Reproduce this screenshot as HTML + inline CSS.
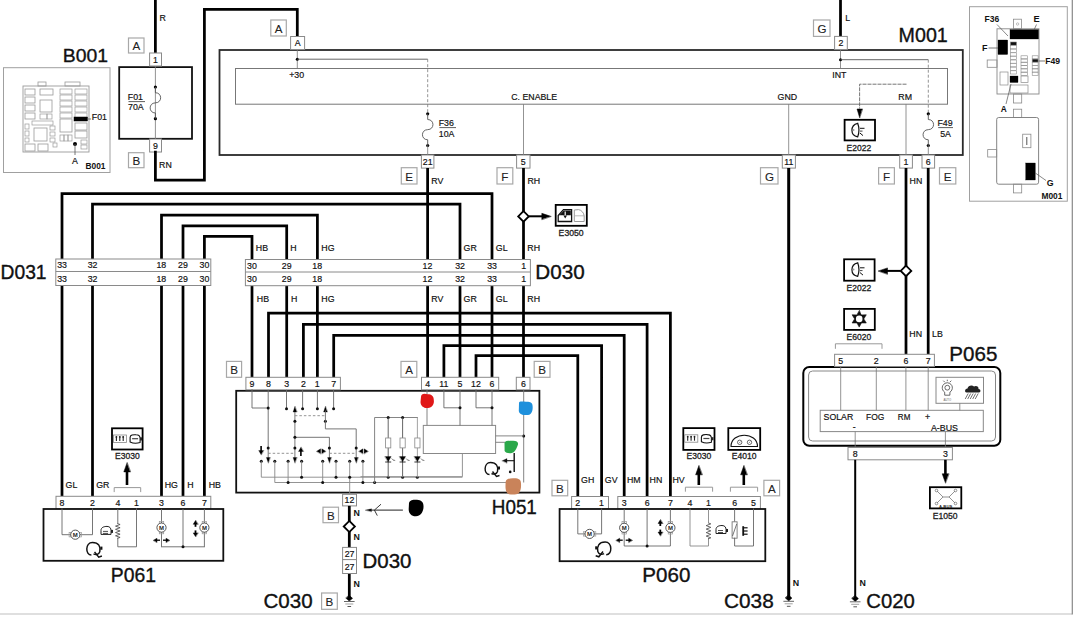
<!DOCTYPE html>
<html><head><meta charset="utf-8"><style>
html,body{margin:0;padding:0;background:#fff;width:1074px;height:624px;overflow:hidden}
svg{display:block;font-family:"Liberation Sans",sans-serif}
</style></head><body>
<svg width="1074" height="624" viewBox="0 0 1074 624">
<rect width="1074" height="624" fill="#fff"/>
<line x1="0" y1="614" x2="1072" y2="614" stroke="#d4d4d4" stroke-width="1.5"/>
<line x1="1072.3" y1="0" x2="1072.3" y2="614.5" stroke="#888" stroke-width="1.2"/>
<rect x="3.5" y="67.7" width="106.50" height="104.80" stroke="#a0a0a0" stroke-width="1" fill="none"/>
<text x="62.75" y="62.01" font-size="19.01" fill="#111" stroke="#111" stroke-width="0.35" textLength="45.23" lengthAdjust="spacingAndGlyphs">B001</text>
<rect x="23" y="86" width="66.00" height="66.00" stroke="#9a9a9a" stroke-width="0.9" fill="none"/>
<rect x="38" y="82" width="8.00" height="4.00" stroke="#9a9a9a" stroke-width="0.8" fill="none"/>
<rect x="65" y="82" width="15.00" height="4.00" stroke="#9a9a9a" stroke-width="0.8" fill="none"/>
<rect x="25" y="89" width="10.00" height="6.00" stroke="#9a9a9a" stroke-width="0.8" fill="none"/>
<rect x="25" y="97" width="10.00" height="6.00" stroke="#9a9a9a" stroke-width="0.8" fill="none"/>
<rect x="25" y="105" width="10.00" height="6.00" stroke="#9a9a9a" stroke-width="0.8" fill="none"/>
<rect x="25" y="113" width="10.00" height="6.00" stroke="#9a9a9a" stroke-width="0.8" fill="none"/>
<rect x="40" y="89" width="13.00" height="6.00" stroke="#9a9a9a" stroke-width="0.8" fill="none"/>
<rect x="40" y="100" width="12.00" height="12.00" stroke="#9a9a9a" stroke-width="0.8" fill="none"/>
<rect x="40" y="114" width="7.00" height="5.00" stroke="#9a9a9a" stroke-width="0.7" fill="none"/>
<rect x="47" y="114" width="5.00" height="5.00" stroke="#9a9a9a" stroke-width="0.7" fill="none"/>
<rect x="60" y="89" width="12.00" height="5.00" stroke="#9a9a9a" stroke-width="0.7" fill="none"/>
<rect x="75" y="89" width="12.00" height="5.00" stroke="#9a9a9a" stroke-width="0.7" fill="none"/>
<rect x="60" y="95" width="12.00" height="5.00" stroke="#9a9a9a" stroke-width="0.7" fill="none"/>
<rect x="75" y="95" width="12.00" height="5.00" stroke="#9a9a9a" stroke-width="0.7" fill="none"/>
<rect x="60" y="101" width="12.00" height="5.00" stroke="#9a9a9a" stroke-width="0.7" fill="none"/>
<rect x="75" y="101" width="12.00" height="5.00" stroke="#9a9a9a" stroke-width="0.7" fill="none"/>
<rect x="60" y="107" width="12.00" height="5.00" stroke="#9a9a9a" stroke-width="0.7" fill="none"/>
<rect x="75" y="107" width="12.00" height="5.00" stroke="#9a9a9a" stroke-width="0.7" fill="none"/>
<rect x="60" y="113" width="12.00" height="5.00" stroke="#9a9a9a" stroke-width="0.7" fill="none"/>
<rect x="75" y="113" width="12.00" height="5.00" stroke="#9a9a9a" stroke-width="0.7" fill="none"/>
<rect x="74" y="117" width="13.50" height="4.00" stroke="#000" stroke-width="0.5" fill="#000"/>
<rect x="60" y="119" width="12.00" height="13.00" stroke="#9a9a9a" stroke-width="0.8" fill="none"/>
<rect x="75" y="123" width="12.00" height="7.00" stroke="#9a9a9a" stroke-width="0.8" fill="none"/>
<rect x="75" y="131" width="12.00" height="7.00" stroke="#9a9a9a" stroke-width="0.8" fill="none"/>
<rect x="32" y="121" width="21.00" height="4.00" stroke="#9a9a9a" stroke-width="0.7" fill="none"/>
<rect x="25" y="124" width="4.00" height="5.00" stroke="#9a9a9a" stroke-width="0.7" fill="none"/>
<rect x="25" y="131" width="4.00" height="5.00" stroke="#9a9a9a" stroke-width="0.7" fill="none"/>
<rect x="25" y="138" width="4.00" height="4.00" stroke="#9a9a9a" stroke-width="0.7" fill="none"/>
<rect x="34" y="128" width="13.00" height="13.00" stroke="#9a9a9a" stroke-width="0.8" fill="none"/>
<rect x="50" y="126" width="5.00" height="4.00" stroke="#9a9a9a" stroke-width="0.7" fill="none"/>
<rect x="50" y="132" width="5.00" height="4.00" stroke="#9a9a9a" stroke-width="0.7" fill="none"/>
<rect x="50" y="138" width="5.00" height="4.00" stroke="#9a9a9a" stroke-width="0.7" fill="none"/>
<rect x="60" y="135" width="4.00" height="6.00" stroke="#9a9a9a" stroke-width="0.7" fill="none"/>
<rect x="64" y="135" width="4.00" height="6.00" stroke="#9a9a9a" stroke-width="0.7" fill="none"/>
<rect x="68" y="135" width="4.00" height="6.00" stroke="#9a9a9a" stroke-width="0.7" fill="none"/>
<rect x="25" y="144" width="10.00" height="7.00" stroke="#9a9a9a" stroke-width="0.8" fill="none"/>
<rect x="38" y="144" width="10.00" height="7.00" stroke="#9a9a9a" stroke-width="0.8" fill="none"/>
<rect x="53" y="143" width="4.00" height="4.00" stroke="#9a9a9a" stroke-width="0.7" fill="none"/>
<rect x="81" y="140" width="6.00" height="4.00" stroke="#9a9a9a" stroke-width="0.7" fill="none"/>
<rect x="81" y="145" width="6.00" height="4.00" stroke="#9a9a9a" stroke-width="0.7" fill="none"/>
<line x1="87.5" y1="119" x2="91" y2="119" stroke="#555" stroke-width="0.8"/>
<text x="91.80" y="120.34" font-size="8.8" fill="#111" stroke="#111" stroke-width="0.18">F01</text>
<circle cx="75" cy="144" r="2" fill="#000" stroke="none" stroke-width="0"/>
<line x1="75" y1="144" x2="75" y2="155" stroke="#555" stroke-width="0.8"/>
<text x="72.05" y="164.34" font-size="8.8" fill="#111" stroke="#111" stroke-width="0.18">A</text>
<text x="85.46" y="168.91" font-size="9" font-weight="bold" fill="#111" textLength="20.00" lengthAdjust="spacingAndGlyphs">B001</text>
<line x1="155.4" y1="0" x2="155.4" y2="53" stroke="#000" stroke-width="2.75"/>
<text x="159.60" y="20.84" font-size="8.8" fill="#111" stroke="#111" stroke-width="0.18">R</text>
<rect x="128.5" y="38" width="15.50" height="15.00" stroke="#a8a8a8" stroke-width="1.2" fill="#fff"/>
<text x="132.56" y="50.25" font-size="11.6" fill="#222" stroke="#222" stroke-width="0.1">A</text>
<rect x="119.2" y="67.1" width="72.80" height="71.70" stroke="#111" stroke-width="1.8" fill="none"/>
<line x1="155.4" y1="66" x2="155.4" y2="139" stroke="#777" stroke-width="0.8"/>
<circle cx="155.4" cy="87" r="1.6" fill="#000" stroke="none" stroke-width="0"/>
<circle cx="155.4" cy="118.7" r="1.6" fill="#000" stroke="none" stroke-width="0"/>
<path d="M155.4,87 L155.4,92.706 C162.4,92.706 162.4,102.85 155.4,102.85 C148.4,102.85 148.4,112.994 155.4,112.994 L155.4,118.7" stroke="#555" stroke-width="0.9" fill="none"/>
<text x="127.80" y="100.24" font-size="8.8" fill="#111" stroke="#111" stroke-width="0.18">F01</text>
<line x1="128.5" y1="101.6" x2="145" y2="101.6" stroke="#333" stroke-width="0.8"/>
<text x="128.06" y="110.24" font-size="8.8" fill="#111" stroke="#111" stroke-width="0.18">70A</text>
<rect x="149.6" y="53" width="11.90" height="13.00" stroke="#8a8a8a" stroke-width="1" fill="#fff"/>
<text x="153.00" y="62.54" font-size="8.8" fill="#111" stroke="#111" stroke-width="0.18">1</text>
<rect x="149.6" y="139" width="11.90" height="13.00" stroke="#8a8a8a" stroke-width="1" fill="#fff"/>
<text x="153.11" y="148.54" font-size="8.8" fill="#111" stroke="#111" stroke-width="0.18">9</text>
<rect x="128.5" y="152.7" width="15.50" height="15.00" stroke="#a8a8a8" stroke-width="1.2" fill="#fff"/>
<text x="132.42" y="164.95" font-size="11.6" fill="#222" stroke="#222" stroke-width="0.1">B</text>
<text x="159.10" y="167.94" font-size="8.8" fill="#111" stroke="#111" stroke-width="0.18">RN</text>
<polyline points="155.4,152 155.4,180 204.4,180 204.4,9.3 297.3,9.3 297.3,36.5" stroke="#000" stroke-width="2.75" fill="none" stroke-linejoin="miter" stroke-linecap="square"/>
<rect x="270.8" y="20" width="15.50" height="16.00" stroke="#a8a8a8" stroke-width="1.2" fill="#fff"/>
<text x="274.86" y="32.75" font-size="11.6" fill="#222" stroke="#222" stroke-width="0.1">A</text>
<rect x="813.5" y="20" width="16.50" height="16.40" stroke="#a8a8a8" stroke-width="1.2" fill="#fff"/>
<text x="817.57" y="32.95" font-size="11.6" fill="#222" stroke="#222" stroke-width="0.1">G</text>
<line x1="840.5" y1="0" x2="840.5" y2="36.4" stroke="#000" stroke-width="2.75"/>
<text x="845.30" y="21.04" font-size="8.8" fill="#111" stroke="#111" stroke-width="0.18">L</text>
<text x="898.63" y="42.20" font-size="19.58" fill="#111" stroke="#111" stroke-width="0.35" textLength="49.19" lengthAdjust="spacingAndGlyphs">M001</text>
<rect x="219.5" y="50" width="743.30" height="105.00" stroke="#2a2a2a" stroke-width="1.8" fill="none"/>
<rect x="235.5" y="68.5" width="712.00" height="35.70" stroke="#777" stroke-width="1" fill="none"/>
<line x1="297.3" y1="49.5" x2="297.3" y2="68.5" stroke="#777" stroke-width="0.8"/>
<circle cx="297.3" cy="59.2" r="1.5" fill="#000" stroke="none" stroke-width="0"/>
<line x1="297.3" y1="59.2" x2="427.7" y2="59.2" stroke="#555" stroke-width="0.9"/>
<line x1="427.7" y1="59.2" x2="427.7" y2="113.8" stroke="#777" stroke-width="0.8" stroke-dasharray="3,2"/>
<text x="289.16" y="78.44" font-size="8.8" fill="#111" stroke="#111" stroke-width="0.18">+30</text>
<text x="511.26" y="100.04" font-size="8.8" fill="#111" stroke="#111" stroke-width="0.18" textLength="45.80" lengthAdjust="spacingAndGlyphs">C. ENABLE</text>
<line x1="523.5" y1="104.2" x2="523.5" y2="155" stroke="#777" stroke-width="0.8"/>
<line x1="840.5" y1="49.5" x2="840.5" y2="68.5" stroke="#777" stroke-width="0.8"/>
<circle cx="840.5" cy="59.7" r="1.5" fill="#000" stroke="none" stroke-width="0"/>
<line x1="840.5" y1="59.7" x2="928.3" y2="59.7" stroke="#555" stroke-width="0.9"/>
<line x1="928.3" y1="59.7" x2="928.3" y2="113.8" stroke="#777" stroke-width="0.8" stroke-dasharray="3,2"/>
<text x="832.21" y="78.24" font-size="8.8" fill="#111" stroke="#111" stroke-width="0.18">INT</text>
<text x="777.56" y="100.04" font-size="8.8" fill="#111" stroke="#111" stroke-width="0.18">GND</text>
<line x1="788.7" y1="104.2" x2="788.7" y2="155" stroke="#777" stroke-width="0.8"/>
<text x="898.30" y="100.04" font-size="8.8" fill="#111" stroke="#111" stroke-width="0.18">RM</text>
<line x1="906" y1="104.2" x2="906" y2="155" stroke="#777" stroke-width="0.8"/>
<polyline points="906,84.2 859.6,84.2 859.6,108" stroke="#666" stroke-width="0.9" fill="none" stroke-linejoin="miter" stroke-linecap="square" stroke-dasharray="3,2"/>
<polygon points="859.6,117.5 857,109 862.2,109" stroke="#000" stroke-width="0.5" fill="#000" stroke-linejoin="miter" stroke-linecap="square"/>
<circle cx="427.7" cy="113.8" r="1.6" fill="#000" stroke="none" stroke-width="0"/>
<circle cx="427.7" cy="145.5" r="1.6" fill="#000" stroke="none" stroke-width="0"/>
<path d="M427.7,113.8 L427.7,119.506 C434.7,119.506 434.7,129.65 427.7,129.65 C420.7,129.65 420.7,139.794 427.7,139.794 L427.7,145.5" stroke="#555" stroke-width="0.9" fill="none"/>
<line x1="427.7" y1="145.5" x2="427.7" y2="155" stroke="#777" stroke-width="0.8"/>
<text x="438.70" y="125.84" font-size="8.8" fill="#111" stroke="#111" stroke-width="0.18">F36</text>
<line x1="439.4" y1="127.6" x2="456" y2="127.6" stroke="#333" stroke-width="0.8"/>
<text x="438.74" y="136.84" font-size="8.8" fill="#111" stroke="#111" stroke-width="0.18">10A</text>
<circle cx="928.3" cy="113.8" r="1.6" fill="#000" stroke="none" stroke-width="0"/>
<circle cx="928.3" cy="145.5" r="1.6" fill="#000" stroke="none" stroke-width="0"/>
<path d="M928.3,113.8 L928.3,119.506 C935.3,119.506 935.3,129.65 928.3,129.65 C921.3,129.65 921.3,139.794 928.3,139.794 L928.3,145.5" stroke="#555" stroke-width="0.9" fill="none"/>
<line x1="928.3" y1="145.5" x2="928.3" y2="155" stroke="#777" stroke-width="0.8"/>
<text x="937.50" y="125.84" font-size="8.8" fill="#111" stroke="#111" stroke-width="0.18">F49</text>
<line x1="938.2" y1="127.6" x2="953" y2="127.6" stroke="#333" stroke-width="0.8"/>
<text x="940.15" y="136.79" font-size="8.8" fill="#111" stroke="#111" stroke-width="0.18">5A</text>
<rect x="844.6" y="119.80000000000001" width="30.40" height="20.60" stroke="#000" stroke-width="1.8" fill="#fff"/>
<text x="846.58" y="150.57" font-size="8.6" fill="#222" stroke="#222" stroke-width="0.3" textLength="24.60" lengthAdjust="spacingAndGlyphs">E2022</text>
<rect x="290.6" y="36.5" width="14.00" height="13.00" stroke="#8a8a8a" stroke-width="1" fill="#fff"/>
<text x="294.65" y="46.04" font-size="8.8" fill="#111" stroke="#111" stroke-width="0.18">A</text>
<rect x="834.6" y="36.4" width="12.70" height="13.10" stroke="#8a8a8a" stroke-width="1" fill="#fff"/>
<text x="838.51" y="46.03" font-size="8.8" fill="#111" stroke="#111" stroke-width="0.18">2</text>
<rect x="421.4" y="155" width="12.50" height="13.10" stroke="#8a8a8a" stroke-width="1" fill="#fff"/>
<text x="422.77" y="164.63" font-size="8.8" fill="#111" stroke="#111" stroke-width="0.18">21</text>
<rect x="516.6" y="155" width="13.40" height="13.10" stroke="#8a8a8a" stroke-width="1" fill="#fff"/>
<text x="520.86" y="164.54" font-size="8.8" fill="#111" stroke="#111" stroke-width="0.18">5</text>
<rect x="782.3" y="155" width="13.10" height="13.10" stroke="#8a8a8a" stroke-width="1" fill="#fff"/>
<text x="784.19" y="164.59" font-size="8.8" fill="#111" stroke="#111" stroke-width="0.18">11</text>
<rect x="899.7" y="155" width="12.70" height="13.10" stroke="#8a8a8a" stroke-width="1" fill="#fff"/>
<text x="903.50" y="164.59" font-size="8.8" fill="#111" stroke="#111" stroke-width="0.18">1</text>
<rect x="922" y="155" width="12.60" height="13.10" stroke="#8a8a8a" stroke-width="1" fill="#fff"/>
<text x="925.84" y="164.59" font-size="8.8" fill="#111" stroke="#111" stroke-width="0.18">6</text>
<rect x="401.3" y="167.7" width="15.70" height="16.30" stroke="#a8a8a8" stroke-width="1.2" fill="#fff"/>
<text x="405.26" y="180.60" font-size="11.6" fill="#222" stroke="#222" stroke-width="0.1">E</text>
<rect x="497" y="167.7" width="15.80" height="16.30" stroke="#a8a8a8" stroke-width="1.2" fill="#fff"/>
<text x="501.33" y="180.60" font-size="11.6" fill="#222" stroke="#222" stroke-width="0.1">F</text>
<rect x="760.5" y="167.7" width="17.50" height="16.30" stroke="#a8a8a8" stroke-width="1.2" fill="#fff"/>
<text x="765.07" y="180.60" font-size="11.6" fill="#222" stroke="#222" stroke-width="0.1">G</text>
<rect x="878.6" y="167.7" width="15.80" height="16.30" stroke="#a8a8a8" stroke-width="1.2" fill="#fff"/>
<text x="882.93" y="180.60" font-size="11.6" fill="#222" stroke="#222" stroke-width="0.1">F</text>
<rect x="939.5" y="167.7" width="16.30" height="16.30" stroke="#a8a8a8" stroke-width="1.2" fill="#fff"/>
<text x="943.76" y="180.60" font-size="11.6" fill="#222" stroke="#222" stroke-width="0.1">E</text>
<text x="431.30" y="184.04" font-size="8.8" fill="#111" stroke="#111" stroke-width="0.18">RV</text>
<text x="527.50" y="184.04" font-size="8.8" fill="#111" stroke="#111" stroke-width="0.18">RH</text>
<text x="909.60" y="184.04" font-size="8.8" fill="#111" stroke="#111" stroke-width="0.18">HN</text>
<line x1="427.6" y1="168" x2="427.6" y2="259.7" stroke="#000" stroke-width="2.75"/>
<line x1="523.5" y1="168" x2="523.5" y2="259.7" stroke="#000" stroke-width="2.75"/>
<polyline points="62,259 62,193.5 492,193.5 492,259.7" stroke="#000" stroke-width="2.75" fill="none" stroke-linejoin="miter" stroke-linecap="square"/>
<polyline points="92.5,259 92.5,204.2 460,204.2 460,259.7" stroke="#000" stroke-width="2.75" fill="none" stroke-linejoin="miter" stroke-linecap="square"/>
<polyline points="161.5,259 161.5,215.2 317.4,215.2 317.4,259.7" stroke="#000" stroke-width="2.75" fill="none" stroke-linejoin="miter" stroke-linecap="square"/>
<polyline points="183,259 183,225.8 286.7,225.8 286.7,259.7" stroke="#000" stroke-width="2.75" fill="none" stroke-linejoin="miter" stroke-linecap="square"/>
<polyline points="204.4,259 204.4,236.3 252,236.3 252,259.7" stroke="#000" stroke-width="2.75" fill="none" stroke-linejoin="miter" stroke-linecap="square"/>
<polygon points="523.5,211.1 528.8,216.4 523.5,221.70000000000002 518.2,216.4" stroke="#000" stroke-width="1.8" fill="#fff" stroke-linejoin="miter" stroke-linecap="square"/>
<line x1="528.8" y1="216.3" x2="542.8" y2="216.3" stroke="#000" stroke-width="2"/>
<polygon points="550.8,216.3 541.8,213.3 541.8,219.3" stroke="#000" stroke-width="0.5" fill="#000" stroke-linejoin="miter" stroke-linecap="square"/>
<rect x="555.6999999999999" y="204.9" width="31.10" height="20.90" stroke="#000" stroke-width="1.8" fill="#fff"/>
<text x="558.63" y="236.17" font-size="8.6" fill="#222" stroke="#222" stroke-width="0.3" textLength="25.00" lengthAdjust="spacingAndGlyphs">E3050</text>
<text x="255.80" y="250.64" font-size="8.8" fill="#111" stroke="#111" stroke-width="0.18">HB</text>
<text x="290.30" y="250.64" font-size="8.8" fill="#111" stroke="#111" stroke-width="0.18">H</text>
<text x="321.30" y="250.64" font-size="8.8" fill="#111" stroke="#111" stroke-width="0.18">HG</text>
<text x="463.56" y="250.64" font-size="8.8" fill="#111" stroke="#111" stroke-width="0.18">GR</text>
<text x="495.86" y="250.64" font-size="8.8" fill="#111" stroke="#111" stroke-width="0.18">GL</text>
<text x="527.30" y="250.64" font-size="8.8" fill="#111" stroke="#111" stroke-width="0.18">RH</text>
<line x1="62" y1="285.4" x2="62" y2="496.3" stroke="#000" stroke-width="2.75"/>
<line x1="92.5" y1="285.4" x2="92.5" y2="496.3" stroke="#000" stroke-width="2.75"/>
<line x1="161.5" y1="285.4" x2="161.5" y2="496.3" stroke="#000" stroke-width="2.75"/>
<line x1="183" y1="285.4" x2="183" y2="496.3" stroke="#000" stroke-width="2.75"/>
<line x1="204.4" y1="285.4" x2="204.4" y2="496.3" stroke="#000" stroke-width="2.75"/>
<line x1="252" y1="285.7" x2="252" y2="377.3" stroke="#000" stroke-width="2.75"/>
<line x1="286.7" y1="285.7" x2="286.7" y2="377.3" stroke="#000" stroke-width="2.75"/>
<line x1="317.4" y1="285.7" x2="317.4" y2="377.3" stroke="#000" stroke-width="2.75"/>
<line x1="427.6" y1="285.7" x2="427.6" y2="377.3" stroke="#000" stroke-width="2.75"/>
<line x1="460" y1="285.7" x2="460" y2="377.3" stroke="#000" stroke-width="2.75"/>
<line x1="492" y1="285.7" x2="492" y2="377.3" stroke="#000" stroke-width="2.75"/>
<line x1="523.5" y1="285.7" x2="523.5" y2="377.3" stroke="#000" stroke-width="2.75"/>
<rect x="55.8" y="259" width="155.00" height="26.50" stroke="#8a8a8a" stroke-width="1" fill="#fff"/>
<line x1="55.8" y1="271.5" x2="210.8" y2="271.5" stroke="#8a8a8a" stroke-width="1"/>
<text x="57.14" y="268.09" font-size="8.8" fill="#111" stroke="#111" stroke-width="0.18">33</text>
<text x="57.14" y="281.94" font-size="8.8" fill="#111" stroke="#111" stroke-width="0.18">33</text>
<text x="87.66" y="268.09" font-size="8.8" fill="#111" stroke="#111" stroke-width="0.18">32</text>
<text x="87.66" y="281.94" font-size="8.8" fill="#111" stroke="#111" stroke-width="0.18">32</text>
<text x="156.46" y="268.09" font-size="8.8" fill="#111" stroke="#111" stroke-width="0.18">18</text>
<text x="156.46" y="281.94" font-size="8.8" fill="#111" stroke="#111" stroke-width="0.18">18</text>
<text x="178.09" y="268.09" font-size="8.8" fill="#111" stroke="#111" stroke-width="0.18">29</text>
<text x="178.09" y="281.94" font-size="8.8" fill="#111" stroke="#111" stroke-width="0.18">29</text>
<text x="199.52" y="268.09" font-size="8.8" fill="#111" stroke="#111" stroke-width="0.18">30</text>
<text x="199.52" y="281.94" font-size="8.8" fill="#111" stroke="#111" stroke-width="0.18">30</text>
<text x="0.56" y="279.30" font-size="19.58" fill="#111" stroke="#111" stroke-width="0.35" textLength="46.02" lengthAdjust="spacingAndGlyphs">D031</text>
<rect x="245.4" y="259.5" width="285.00" height="26.20" stroke="#8a8a8a" stroke-width="1" fill="#fff"/>
<line x1="245.4" y1="272" x2="530.4" y2="272" stroke="#8a8a8a" stroke-width="1"/>
<text x="247.12" y="268.59" font-size="8.8" fill="#111" stroke="#111" stroke-width="0.18">30</text>
<text x="247.12" y="282.29" font-size="8.8" fill="#111" stroke="#111" stroke-width="0.18">30</text>
<text x="281.79" y="268.59" font-size="8.8" fill="#111" stroke="#111" stroke-width="0.18">29</text>
<text x="281.79" y="282.29" font-size="8.8" fill="#111" stroke="#111" stroke-width="0.18">29</text>
<text x="312.36" y="268.59" font-size="8.8" fill="#111" stroke="#111" stroke-width="0.18">18</text>
<text x="312.36" y="282.29" font-size="8.8" fill="#111" stroke="#111" stroke-width="0.18">18</text>
<text x="422.61" y="268.63" font-size="8.8" fill="#111" stroke="#111" stroke-width="0.18">12</text>
<text x="422.61" y="282.33" font-size="8.8" fill="#111" stroke="#111" stroke-width="0.18">12</text>
<text x="455.16" y="268.59" font-size="8.8" fill="#111" stroke="#111" stroke-width="0.18">32</text>
<text x="455.16" y="282.29" font-size="8.8" fill="#111" stroke="#111" stroke-width="0.18">32</text>
<text x="487.14" y="268.59" font-size="8.8" fill="#111" stroke="#111" stroke-width="0.18">33</text>
<text x="487.14" y="282.29" font-size="8.8" fill="#111" stroke="#111" stroke-width="0.18">33</text>
<text x="521.25" y="268.59" font-size="8.8" fill="#111" stroke="#111" stroke-width="0.18">1</text>
<text x="521.25" y="282.29" font-size="8.8" fill="#111" stroke="#111" stroke-width="0.18">1</text>
<text x="535.25" y="279.30" font-size="19.86" fill="#111" stroke="#111" stroke-width="0.35" textLength="49.39" lengthAdjust="spacingAndGlyphs">D030</text>
<text x="256.80" y="301.54" font-size="8.8" fill="#111" stroke="#111" stroke-width="0.18">HB</text>
<text x="291.10" y="301.54" font-size="8.8" fill="#111" stroke="#111" stroke-width="0.18">H</text>
<text x="321.30" y="301.54" font-size="8.8" fill="#111" stroke="#111" stroke-width="0.18">HG</text>
<text x="431.30" y="301.54" font-size="8.8" fill="#111" stroke="#111" stroke-width="0.18">RV</text>
<text x="463.56" y="301.54" font-size="8.8" fill="#111" stroke="#111" stroke-width="0.18">GR</text>
<text x="495.86" y="301.54" font-size="8.8" fill="#111" stroke="#111" stroke-width="0.18">GL</text>
<text x="527.30" y="301.54" font-size="8.8" fill="#111" stroke="#111" stroke-width="0.18">RH</text>
<polyline points="268.5,377.3 268.5,313.2 670.4,313.2 670.4,496.5" stroke="#000" stroke-width="2.75" fill="none" stroke-linejoin="miter" stroke-linecap="square"/>
<polyline points="303.4,377.3 303.4,324.4 647.1,324.4 647.1,496.5" stroke="#000" stroke-width="2.75" fill="none" stroke-linejoin="miter" stroke-linecap="square"/>
<polyline points="333.7,377.3 333.7,335.4 624.2,335.4 624.2,496.5" stroke="#000" stroke-width="2.75" fill="none" stroke-linejoin="miter" stroke-linecap="square"/>
<polyline points="443.9,377.3 443.9,345.6 601.6,345.6 601.6,496.5" stroke="#000" stroke-width="2.75" fill="none" stroke-linejoin="miter" stroke-linecap="square"/>
<polyline points="476,377.3 476,355.7 577.8,355.7 577.8,496.5" stroke="#000" stroke-width="2.75" fill="none" stroke-linejoin="miter" stroke-linecap="square"/>
<rect x="236.2" y="390.8" width="303.20" height="101.80" stroke="#111" stroke-width="1.8" fill="#fff"/>
<rect x="226.5" y="361.4" width="15.10" height="15.90" stroke="#a8a8a8" stroke-width="1.2" fill="#fff"/>
<text x="230.22" y="374.10" font-size="11.6" fill="#222" stroke="#222" stroke-width="0.1">B</text>
<rect x="401" y="361.4" width="15.80" height="15.90" stroke="#a8a8a8" stroke-width="1.2" fill="#fff"/>
<text x="405.21" y="374.10" font-size="11.6" fill="#222" stroke="#222" stroke-width="0.1">A</text>
<rect x="534.2" y="361.4" width="15.80" height="15.90" stroke="#a8a8a8" stroke-width="1.2" fill="#fff"/>
<text x="538.27" y="374.10" font-size="11.6" fill="#222" stroke="#222" stroke-width="0.1">B</text>
<rect x="245.9" y="377.3" width="94.50" height="12.50" stroke="#8a8a8a" stroke-width="1" fill="#fff"/>
<text x="249.56" y="386.89" font-size="8.8" fill="#111" stroke="#111" stroke-width="0.18">9</text>
<text x="266.04" y="386.89" font-size="8.8" fill="#111" stroke="#111" stroke-width="0.18">8</text>
<text x="284.28" y="386.89" font-size="8.8" fill="#111" stroke="#111" stroke-width="0.18">3</text>
<text x="300.96" y="386.93" font-size="8.8" fill="#111" stroke="#111" stroke-width="0.18">2</text>
<text x="314.85" y="386.89" font-size="8.8" fill="#111" stroke="#111" stroke-width="0.18">1</text>
<text x="331.26" y="386.89" font-size="8.8" fill="#111" stroke="#111" stroke-width="0.18">7</text>
<rect x="421.5" y="377.3" width="77.20" height="12.50" stroke="#8a8a8a" stroke-width="1" fill="#fff"/>
<text x="425.18" y="386.89" font-size="8.8" fill="#111" stroke="#111" stroke-width="0.18">4</text>
<text x="439.24" y="386.89" font-size="8.8" fill="#111" stroke="#111" stroke-width="0.18">11</text>
<text x="457.56" y="386.84" font-size="8.8" fill="#111" stroke="#111" stroke-width="0.18">5</text>
<text x="471.01" y="386.93" font-size="8.8" fill="#111" stroke="#111" stroke-width="0.18">12</text>
<text x="489.54" y="386.89" font-size="8.8" fill="#111" stroke="#111" stroke-width="0.18">6</text>
<rect x="516.3" y="377.3" width="13.70" height="12.50" stroke="#8a8a8a" stroke-width="1" fill="#fff"/>
<text x="521.04" y="386.89" font-size="8.8" fill="#111" stroke="#111" stroke-width="0.18">6</text>
<text x="491.79" y="513.60" font-size="20.00" fill="#111" stroke="#111" stroke-width="0.35" textLength="45.06" lengthAdjust="spacingAndGlyphs">H051</text>
<rect x="342.6" y="494.3" width="13.90" height="11.60" stroke="#8a8a8a" stroke-width="1" fill="#fff"/>
<text x="344.56" y="503.18" font-size="8.8" fill="#111" stroke="#111" stroke-width="0.18">12</text>
<line x1="349.3" y1="505.9" x2="349.3" y2="598.5" stroke="#000" stroke-width="2.75"/>
<polygon points="349.3,520.9 354.90000000000003,526.5 349.3,532.1 343.7,526.5" stroke="#000" stroke-width="1.8" fill="#fff" stroke-linejoin="miter" stroke-linecap="square"/>
<rect x="323" y="507.2" width="15.50" height="15.50" stroke="#a8a8a8" stroke-width="1.2" fill="#fff"/>
<text x="326.92" y="519.70" font-size="11.6" fill="#222" stroke="#222" stroke-width="0.1">B</text>
<text x="353.43" y="515.64" font-size="8.8" font-weight="bold" fill="#111">N</text>
<text x="353.43" y="539.64" font-size="8.8" font-weight="bold" fill="#111">N</text>
<text x="353.43" y="586.94" font-size="8.8" font-weight="bold" fill="#111">N</text>
<rect x="342.6" y="547.4" width="13.90" height="12.20" stroke="#8a8a8a" stroke-width="1" fill="#fff"/>
<text x="344.67" y="556.58" font-size="8.8" fill="#111" stroke="#111" stroke-width="0.18">27</text>
<rect x="342.6" y="559.6" width="13.90" height="13.90" stroke="#8a8a8a" stroke-width="1" fill="#fff"/>
<text x="344.67" y="569.63" font-size="8.8" fill="#111" stroke="#111" stroke-width="0.18">27</text>
<text x="362.46" y="567.50" font-size="19.72" fill="#111" stroke="#111" stroke-width="0.35" textLength="48.97" lengthAdjust="spacingAndGlyphs">D030</text>
<polygon points="349.3,595.5 352.5,598.3 349.3,601.1 346.1,598.3" stroke="#000" stroke-width="0.6" fill="#000" stroke-linejoin="miter" stroke-linecap="square"/>
<line x1="344.0" y1="601.5" x2="354.6" y2="601.5" stroke="#666" stroke-width="1"/>
<line x1="345.3" y1="604.0" x2="353.3" y2="604.0" stroke="#999" stroke-width="0.9"/>
<line x1="347.5" y1="606.5" x2="351.1" y2="606.5" stroke="#555" stroke-width="1"/>
<text x="263.47" y="608.30" font-size="19.86" fill="#111" stroke="#111" stroke-width="0.35" textLength="49.17" lengthAdjust="spacingAndGlyphs">C030</text>
<rect x="321.6" y="593" width="15.70" height="16.30" stroke="#a8a8a8" stroke-width="1.2" fill="#fff"/>
<text x="325.62" y="605.90" font-size="11.6" fill="#222" stroke="#222" stroke-width="0.1">B</text>
<text x="65.56" y="487.54" font-size="8.8" fill="#111" stroke="#111" stroke-width="0.18">GL</text>
<text x="96.26" y="487.54" font-size="8.8" fill="#111" stroke="#111" stroke-width="0.18">GR</text>
<text x="164.70" y="487.54" font-size="8.8" fill="#111" stroke="#111" stroke-width="0.18">HG</text>
<text x="187.20" y="487.54" font-size="8.8" fill="#111" stroke="#111" stroke-width="0.18">H</text>
<text x="208.70" y="487.54" font-size="8.8" fill="#111" stroke="#111" stroke-width="0.18">HB</text>
<rect x="56" y="496.3" width="154.80" height="12.60" stroke="#8a8a8a" stroke-width="1" fill="#fff"/>
<text x="59.54" y="505.94" font-size="8.8" fill="#111" stroke="#111" stroke-width="0.18">8</text>
<text x="90.06" y="505.98" font-size="8.8" fill="#111" stroke="#111" stroke-width="0.18">2</text>
<text x="115.38" y="505.94" font-size="8.8" fill="#111" stroke="#111" stroke-width="0.18">4</text>
<text x="133.95" y="505.94" font-size="8.8" fill="#111" stroke="#111" stroke-width="0.18">1</text>
<text x="159.08" y="505.94" font-size="8.8" fill="#111" stroke="#111" stroke-width="0.18">3</text>
<text x="180.54" y="505.94" font-size="8.8" fill="#111" stroke="#111" stroke-width="0.18">6</text>
<text x="201.96" y="505.94" font-size="8.8" fill="#111" stroke="#111" stroke-width="0.18">7</text>
<rect x="43.5" y="509" width="179.80" height="51.80" stroke="#111" stroke-width="1.8" fill="#fff"/>
<text x="110.75" y="582.30" font-size="19.72" fill="#111" stroke="#111" stroke-width="0.35" textLength="45.23" lengthAdjust="spacingAndGlyphs">P061</text>
<polyline points="114.2,491.6 114.2,487.6 140.7,487.6 140.7,491.6" stroke="#999" stroke-width="1" fill="none" stroke-linejoin="miter" stroke-linecap="square"/>
<line x1="127" y1="485" x2="127" y2="470.9" stroke="#000" stroke-width="2.6"/>
<polygon points="127,462.9 123.8,471.9 130.2,471.9" stroke="#000" stroke-width="0.5" fill="#000" stroke-linejoin="miter" stroke-linecap="square"/>
<rect x="112.0" y="428.29999999999995" width="30.60" height="21.20" stroke="#000" stroke-width="1.8" fill="#fff"/>
<text x="114.99" y="458.87" font-size="8.6" fill="#222" stroke="#222" stroke-width="0.3" textLength="24.70" lengthAdjust="spacingAndGlyphs">E3030</text>
<text x="581.06" y="482.64" font-size="8.8" fill="#111" stroke="#111" stroke-width="0.18">GH</text>
<text x="604.86" y="482.64" font-size="8.8" fill="#111" stroke="#111" stroke-width="0.18">GV</text>
<text x="627.00" y="482.64" font-size="8.8" fill="#111" stroke="#111" stroke-width="0.18">HM</text>
<text x="649.60" y="482.64" font-size="8.8" fill="#111" stroke="#111" stroke-width="0.18">HN</text>
<text x="672.50" y="482.64" font-size="8.8" fill="#111" stroke="#111" stroke-width="0.18">HV</text>
<rect x="552" y="480.3" width="15.70" height="15.50" stroke="#a8a8a8" stroke-width="1.2" fill="#fff"/>
<text x="556.02" y="492.80" font-size="11.6" fill="#222" stroke="#222" stroke-width="0.1">B</text>
<rect x="763.9" y="480.3" width="15.70" height="15.50" stroke="#a8a8a8" stroke-width="1.2" fill="#fff"/>
<text x="768.06" y="492.80" font-size="11.6" fill="#222" stroke="#222" stroke-width="0.1">A</text>
<rect x="571.6" y="496.5" width="36.90" height="12.50" stroke="#8a8a8a" stroke-width="1" fill="#fff"/>
<text x="575.36" y="506.13" font-size="8.8" fill="#111" stroke="#111" stroke-width="0.18">2</text>
<text x="599.05" y="506.09" font-size="8.8" fill="#111" stroke="#111" stroke-width="0.18">1</text>
<rect x="617.8" y="496.5" width="142.60" height="12.50" stroke="#8a8a8a" stroke-width="1" fill="#fff"/>
<text x="621.78" y="506.09" font-size="8.8" fill="#111" stroke="#111" stroke-width="0.18">3</text>
<text x="644.64" y="506.09" font-size="8.8" fill="#111" stroke="#111" stroke-width="0.18">6</text>
<text x="667.96" y="506.09" font-size="8.8" fill="#111" stroke="#111" stroke-width="0.18">7</text>
<text x="687.58" y="506.09" font-size="8.8" fill="#111" stroke="#111" stroke-width="0.18">4</text>
<text x="705.95" y="506.09" font-size="8.8" fill="#111" stroke="#111" stroke-width="0.18">1</text>
<text x="732.14" y="506.09" font-size="8.8" fill="#111" stroke="#111" stroke-width="0.18">6</text>
<text x="751.06" y="506.04" font-size="8.8" fill="#111" stroke="#111" stroke-width="0.18">5</text>
<rect x="559.6" y="509" width="205.70" height="52.20" stroke="#111" stroke-width="1.8" fill="#fff"/>
<text x="642.35" y="582.30" font-size="19.86" fill="#111" stroke="#111" stroke-width="0.35" textLength="48.08" lengthAdjust="spacingAndGlyphs">P060</text>
<polyline points="685.4,491.2 685.4,487.2 712.6,487.2 712.6,491.2" stroke="#999" stroke-width="1" fill="none" stroke-linejoin="miter" stroke-linecap="square"/>
<polyline points="730.4,491.2 730.4,487.2 757.6,487.2 757.6,491.2" stroke="#999" stroke-width="1" fill="none" stroke-linejoin="miter" stroke-linecap="square"/>
<line x1="698.8" y1="485" x2="698.8" y2="473.8" stroke="#000" stroke-width="2.6"/>
<polygon points="698.8,465.8 695.5999999999999,474.8 702.0,474.8" stroke="#000" stroke-width="0.5" fill="#000" stroke-linejoin="miter" stroke-linecap="square"/>
<line x1="743.8" y1="485" x2="743.8" y2="473.8" stroke="#000" stroke-width="2.6"/>
<polygon points="743.8,465.8 740.5999999999999,474.8 747.0,474.8" stroke="#000" stroke-width="0.5" fill="#000" stroke-linejoin="miter" stroke-linecap="square"/>
<rect x="683.3" y="428.09999999999997" width="31.20" height="21.80" stroke="#000" stroke-width="1.8" fill="#fff"/>
<text x="686.49" y="459.47" font-size="8.6" fill="#222" stroke="#222" stroke-width="0.3" textLength="24.70" lengthAdjust="spacingAndGlyphs">E3030</text>
<rect x="728.3" y="428.09999999999997" width="31.90" height="21.80" stroke="#000" stroke-width="1.8" fill="#fff"/>
<text x="731.69" y="459.47" font-size="8.6" fill="#222" stroke="#222" stroke-width="0.3" textLength="24.70" lengthAdjust="spacingAndGlyphs">E4010</text>
<line x1="788.7" y1="168" x2="788.7" y2="598.5" stroke="#000" stroke-width="3"/>
<text x="792.73" y="586.34" font-size="8.8" font-weight="bold" fill="#111">N</text>
<polygon points="788.7,595.3000000000001 791.9000000000001,598.1 788.7,600.9000000000001 785.5,598.1" stroke="#000" stroke-width="0.6" fill="#000" stroke-linejoin="miter" stroke-linecap="square"/>
<line x1="783.4000000000001" y1="601.3000000000001" x2="794.0" y2="601.3000000000001" stroke="#666" stroke-width="1"/>
<line x1="784.7" y1="603.8000000000001" x2="792.7" y2="603.8000000000001" stroke="#999" stroke-width="0.9"/>
<line x1="786.9000000000001" y1="606.3000000000001" x2="790.5" y2="606.3000000000001" stroke="#555" stroke-width="1"/>
<text x="724.06" y="608.30" font-size="20.14" fill="#111" stroke="#111" stroke-width="0.35" textLength="49.69" lengthAdjust="spacingAndGlyphs">C038</text>
<line x1="906" y1="168" x2="906" y2="354.3" stroke="#000" stroke-width="2.75"/>
<line x1="928.2" y1="168" x2="928.2" y2="354.3" stroke="#000" stroke-width="2.75"/>
<polygon points="906,265.59999999999997 911.3,270.9 906,276.2 900.7,270.9" stroke="#000" stroke-width="1.8" fill="#fff" stroke-linejoin="miter" stroke-linecap="square"/>
<line x1="900.7" y1="270.9" x2="886.5" y2="270.9" stroke="#000" stroke-width="2"/>
<polygon points="878.5,270.9 887.5,267.9 887.5,273.9" stroke="#000" stroke-width="0.5" fill="#000" stroke-linejoin="miter" stroke-linecap="square"/>
<rect x="844.1" y="259.29999999999995" width="30.50" height="21.40" stroke="#000" stroke-width="1.8" fill="#fff"/>
<text x="846.58" y="290.57" font-size="8.6" fill="#222" stroke="#222" stroke-width="0.3" textLength="24.60" lengthAdjust="spacingAndGlyphs">E2022</text>
<rect x="844.1" y="308.9" width="30.70" height="21.00" stroke="#000" stroke-width="1.8" fill="#fff"/>
<text x="846.54" y="339.77" font-size="8.6" fill="#222" stroke="#222" stroke-width="0.3" textLength="24.60" lengthAdjust="spacingAndGlyphs">E6020</text>
<polyline points="835.4,348.3 835.4,343.8 882,343.8 882,348.3" stroke="#999" stroke-width="1" fill="none" stroke-linejoin="miter" stroke-linecap="square"/>
<text x="909.30" y="336.84" font-size="8.8" fill="#111" stroke="#111" stroke-width="0.18">HN</text>
<text x="932.00" y="336.84" font-size="8.8" fill="#111" stroke="#111" stroke-width="0.18">LB</text>
<rect x="803.3" y="367" width="197" height="78.8" rx="6" stroke="#000" stroke-width="2" fill="#fff"/>
<rect x="808.6" y="371" width="186.9" height="70" rx="4" stroke="#888" stroke-width="1" fill="#fff"/>
<rect x="834.6" y="354.3" width="99.80" height="12.30" stroke="#8a8a8a" stroke-width="1" fill="#fff"/>
<text x="838.26" y="363.74" font-size="8.8" fill="#111" stroke="#111" stroke-width="0.18">5</text>
<text x="873.86" y="363.83" font-size="8.8" fill="#111" stroke="#111" stroke-width="0.18">2</text>
<text x="903.44" y="363.79" font-size="8.8" fill="#111" stroke="#111" stroke-width="0.18">6</text>
<text x="925.76" y="363.79" font-size="8.8" fill="#111" stroke="#111" stroke-width="0.18">7</text>
<text x="949.35" y="361.30" font-size="20.00" fill="#111" stroke="#111" stroke-width="0.35" textLength="48.08" lengthAdjust="spacingAndGlyphs">P065</text>
<rect x="820.2" y="410.3" width="163.10" height="21.30" stroke="#888" stroke-width="1" fill="none"/>
<rect x="936" y="377.3" width="47.50" height="26.00" stroke="#888" stroke-width="1" fill="none"/>
<line x1="840.7" y1="366.6" x2="840.7" y2="410.3" stroke="#777" stroke-width="0.8"/>
<line x1="876.3" y1="366.6" x2="876.3" y2="410.3" stroke="#777" stroke-width="0.8"/>
<line x1="905.9" y1="366.6" x2="905.9" y2="410.3" stroke="#777" stroke-width="0.8"/>
<line x1="928.2" y1="366.6" x2="928.2" y2="410.3" stroke="#777" stroke-width="0.8"/>
<line x1="959.8" y1="403.3" x2="959.8" y2="410.3" stroke="#777" stroke-width="0.8"/>
<line x1="855.2" y1="431.6" x2="855.2" y2="447.5" stroke="#777" stroke-width="0.8"/>
<line x1="945.4" y1="431.6" x2="945.4" y2="447.5" stroke="#777" stroke-width="0.8"/>
<text x="823.61" y="419.74" font-size="8.8" fill="#111" stroke="#111" stroke-width="0.18" textLength="29.60" lengthAdjust="spacingAndGlyphs">SOLAR</text>
<text x="866.02" y="419.74" font-size="8.8" fill="#111" stroke="#111" stroke-width="0.18" textLength="18.30" lengthAdjust="spacingAndGlyphs">FOG</text>
<text x="897.86" y="419.74" font-size="8.8" fill="#111" stroke="#111" stroke-width="0.18" textLength="12.50" lengthAdjust="spacingAndGlyphs">RM</text>
<text x="924.96" y="420.38" font-size="8.8" fill="#111" stroke="#111" stroke-width="0.18">+</text>
<text x="852.80" y="430.28" font-size="8.8" fill="#111" stroke="#111" stroke-width="0.18">-</text>
<text x="930.96" y="430.74" font-size="8.8" fill="#111" stroke="#111" stroke-width="0.18" textLength="27.00" lengthAdjust="spacingAndGlyphs">A-BUS</text>
<rect x="848" y="447.5" width="104.40" height="12.30" stroke="#8a8a8a" stroke-width="1" fill="#fff"/>
<text x="852.74" y="456.99" font-size="8.8" fill="#111" stroke="#111" stroke-width="0.18">8</text>
<text x="942.98" y="456.99" font-size="8.8" fill="#111" stroke="#111" stroke-width="0.18">3</text>
<line x1="855.2" y1="459.8" x2="855.2" y2="598.8" stroke="#000" stroke-width="2"/>
<text x="859.43" y="586.24" font-size="8.8" font-weight="bold" fill="#111">N</text>
<polygon points="855.2,595.8000000000001 858.4000000000001,598.6 855.2,601.4000000000001 852.0,598.6" stroke="#000" stroke-width="0.6" fill="#000" stroke-linejoin="miter" stroke-linecap="square"/>
<line x1="849.9000000000001" y1="601.8000000000001" x2="860.5" y2="601.8000000000001" stroke="#666" stroke-width="1"/>
<line x1="851.2" y1="604.3000000000001" x2="859.2" y2="604.3000000000001" stroke="#999" stroke-width="0.9"/>
<line x1="853.4000000000001" y1="606.8000000000001" x2="857.0" y2="606.8000000000001" stroke="#555" stroke-width="1"/>
<text x="866.38" y="608.30" font-size="20.14" fill="#111" stroke="#111" stroke-width="0.35" textLength="48.54" lengthAdjust="spacingAndGlyphs">C020</text>
<line x1="945.4" y1="459.8" x2="945.4" y2="474.8" stroke="#000" stroke-width="2.6"/>
<polygon points="945.4,482.8 942.1999999999999,473.8 948.6,473.8" stroke="#000" stroke-width="0.5" fill="#000" stroke-linejoin="miter" stroke-linecap="square"/>
<rect x="929.9" y="487.2" width="31.40" height="21.20" stroke="#000" stroke-width="1.8" fill="#fff"/>
<text x="932.84" y="518.97" font-size="8.6" fill="#222" stroke="#222" stroke-width="0.3" textLength="24.80" lengthAdjust="spacingAndGlyphs">E1050</text>
<rect x="969.5" y="6.7" width="97.80" height="194.50" stroke="#a0a0a0" stroke-width="1" fill="none"/>
<polyline points="252,389.8 252,408 268.2,408" stroke="#666" stroke-width="0.9" fill="none" stroke-linejoin="miter" stroke-linecap="square"/>
<line x1="268.2" y1="389.8" x2="268.2" y2="458" stroke="#666" stroke-width="0.9"/>
<circle cx="268.2" cy="408" r="1.5" fill="#111" stroke="none" stroke-width="0"/>
<circle cx="268.2" cy="447.9" r="1.5" fill="#111" stroke="none" stroke-width="0"/>
<polygon points="268.2,462.8 266.4,457.5 270,457.5" stroke="#000" stroke-width="0.3" fill="#000" stroke-linejoin="miter" stroke-linecap="square"/>
<line x1="286.5" y1="389.8" x2="286.5" y2="408.7" stroke="#666" stroke-width="0.9"/>
<circle cx="286.5" cy="408.7" r="1.5" fill="#111" stroke="none" stroke-width="0"/>
<line x1="302.6" y1="389.8" x2="302.6" y2="408.7" stroke="#666" stroke-width="0.9"/>
<circle cx="302.6" cy="408.7" r="1.5" fill="#111" stroke="none" stroke-width="0"/>
<line x1="317.4" y1="389.8" x2="317.4" y2="408.7" stroke="#666" stroke-width="0.9"/>
<circle cx="317.4" cy="408.7" r="1.5" fill="#111" stroke="none" stroke-width="0"/>
<line x1="333.6" y1="389.8" x2="333.6" y2="408.7" stroke="#666" stroke-width="0.9"/>
<circle cx="333.6" cy="408.7" r="1.5" fill="#111" stroke="none" stroke-width="0"/>
<line x1="294.9" y1="411" x2="294.9" y2="458" stroke="#666" stroke-width="0.9"/>
<polygon points="294.9,406.5 293.1,412 296.7,412" stroke="#000" stroke-width="0.3" fill="#000" stroke-linejoin="miter" stroke-linecap="square"/>
<polygon points="325.4,406.5 323.6,412 327.2,412" stroke="#000" stroke-width="0.3" fill="#000" stroke-linejoin="miter" stroke-linecap="square"/>
<line x1="294.9" y1="415.7" x2="325.4" y2="415.7" stroke="#888" stroke-width="0.9" stroke-dasharray="2.5,2"/>
<circle cx="294.9" cy="421.2" r="1.5" fill="#111" stroke="none" stroke-width="0"/>
<circle cx="325.4" cy="421.2" r="1.5" fill="#111" stroke="none" stroke-width="0"/>
<polyline points="325.4,411 325.4,428.9 356.2,428.9 356.2,458" stroke="#666" stroke-width="0.9" fill="none" stroke-linejoin="miter" stroke-linecap="square"/>
<polyline points="294.9,437.3 329.4,437.3 329.4,458" stroke="#666" stroke-width="0.9" fill="none" stroke-linejoin="miter" stroke-linecap="square"/>
<circle cx="294.9" cy="437.3" r="1.5" fill="#111" stroke="none" stroke-width="0"/>
<circle cx="294.9" cy="447.9" r="1.5" fill="#111" stroke="none" stroke-width="0"/>
<circle cx="329.4" cy="447.9" r="1.5" fill="#111" stroke="none" stroke-width="0"/>
<circle cx="356.2" cy="447.9" r="1.5" fill="#111" stroke="none" stroke-width="0"/>
<polygon points="294.9,462.8 293.09999999999997,457.5 296.7,457.5" stroke="#000" stroke-width="0.3" fill="#000" stroke-linejoin="miter" stroke-linecap="square"/>
<polygon points="329.4,462.8 327.59999999999997,457.5 331.2,457.5" stroke="#000" stroke-width="0.3" fill="#000" stroke-linejoin="miter" stroke-linecap="square"/>
<polygon points="356.2,462.8 354.4,457.5 358.0,457.5" stroke="#000" stroke-width="0.3" fill="#000" stroke-linejoin="miter" stroke-linecap="square"/>
<line x1="268.2" y1="453.3" x2="294.9" y2="453.3" stroke="#888" stroke-width="0.9" stroke-dasharray="2.5,2"/>
<line x1="329.4" y1="453.3" x2="356.2" y2="453.3" stroke="#888" stroke-width="0.9" stroke-dasharray="2.5,2"/>
<line x1="261.1" y1="446.0" x2="261.1" y2="451.0" stroke="#000" stroke-width="1.6"/>
<polygon points="261.1,454.7 258.70000000000005,450.5 263.5,450.5" stroke="#000" stroke-width="0.3" fill="#000" stroke-linejoin="miter" stroke-linecap="square"/>
<line x1="300.9" y1="456.0" x2="300.9" y2="451.0" stroke="#000" stroke-width="1.6"/>
<polygon points="300.9,447.3 298.5,451.5 303.29999999999995,451.5" stroke="#000" stroke-width="0.3" fill="#000" stroke-linejoin="miter" stroke-linecap="square"/>
<polygon points="316.7,451.2 320.59999999999997,448.8 320.59999999999997,453.59999999999997" stroke="#000" stroke-width="0.3" fill="#000" stroke-linejoin="miter" stroke-linecap="square"/>
<polygon points="325.7,451.2 321.8,448.8 321.8,453.59999999999997" stroke="#000" stroke-width="0.3" fill="#000" stroke-linejoin="miter" stroke-linecap="square"/>
<polygon points="359.0,451.2 362.9,448.8 362.9,453.59999999999997" stroke="#000" stroke-width="0.3" fill="#000" stroke-linejoin="miter" stroke-linecap="square"/>
<polygon points="368.0,451.2 364.1,448.8 364.1,453.59999999999997" stroke="#000" stroke-width="0.3" fill="#000" stroke-linejoin="miter" stroke-linecap="square"/>
<circle cx="261.3" cy="461.2" r="1.5" fill="#111" stroke="none" stroke-width="0"/>
<circle cx="274.8" cy="461.2" r="1.5" fill="#111" stroke="none" stroke-width="0"/>
<circle cx="288.1" cy="461.2" r="1.5" fill="#111" stroke="none" stroke-width="0"/>
<circle cx="301.6" cy="461.2" r="1.5" fill="#111" stroke="none" stroke-width="0"/>
<circle cx="322.7" cy="461.2" r="1.5" fill="#111" stroke="none" stroke-width="0"/>
<circle cx="336" cy="461.2" r="1.5" fill="#111" stroke="none" stroke-width="0"/>
<circle cx="349.7" cy="461.2" r="1.5" fill="#111" stroke="none" stroke-width="0"/>
<circle cx="362.9" cy="461.2" r="1.5" fill="#111" stroke="none" stroke-width="0"/>
<line x1="261.3" y1="477.2" x2="462.4" y2="477.2" stroke="#888" stroke-width="0.9"/>
<line x1="274.8" y1="482.5" x2="510" y2="482.5" stroke="#888" stroke-width="0.9"/>
<line x1="261.3" y1="461.2" x2="261.3" y2="477.2" stroke="#888" stroke-width="0.9"/>
<line x1="274.8" y1="461.2" x2="274.8" y2="482.5" stroke="#888" stroke-width="0.9"/>
<line x1="288.1" y1="461.2" x2="288.1" y2="482.5" stroke="#888" stroke-width="0.9"/>
<line x1="301.6" y1="461.2" x2="301.6" y2="477.2" stroke="#888" stroke-width="0.9"/>
<line x1="322.7" y1="461.2" x2="322.7" y2="482.5" stroke="#888" stroke-width="0.9"/>
<line x1="336" y1="461.2" x2="336" y2="477.2" stroke="#888" stroke-width="0.9"/>
<line x1="362.9" y1="461.2" x2="362.9" y2="482.5" stroke="#888" stroke-width="0.9"/>
<line x1="349.7" y1="461.2" x2="349.7" y2="494.3" stroke="#888" stroke-width="0.9"/>
<circle cx="288.1" cy="482.5" r="1.5" fill="#111" stroke="none" stroke-width="0"/>
<circle cx="301.6" cy="477.2" r="1.5" fill="#111" stroke="none" stroke-width="0"/>
<circle cx="322.7" cy="482.5" r="1.5" fill="#111" stroke="none" stroke-width="0"/>
<circle cx="336" cy="477.2" r="1.5" fill="#111" stroke="none" stroke-width="0"/>
<circle cx="349.7" cy="477.2" r="1.5" fill="#111" stroke="none" stroke-width="0"/>
<circle cx="362.9" cy="482.5" r="1.5" fill="#111" stroke="none" stroke-width="0"/>
<circle cx="374.6" cy="482.5" r="1.5" fill="#111" stroke="none" stroke-width="0"/>
<circle cx="388.2" cy="477.2" r="1.5" fill="#111" stroke="none" stroke-width="0"/>
<circle cx="402.6" cy="477.2" r="1.5" fill="#111" stroke="none" stroke-width="0"/>
<circle cx="417.3" cy="477.2" r="1.5" fill="#111" stroke="none" stroke-width="0"/>
<polyline points="374.6,482.5 374.6,417.5 417.4,417.5" stroke="#777" stroke-width="0.9" fill="none" stroke-linejoin="miter" stroke-linecap="square"/>
<circle cx="388.2" cy="417.5" r="1.5" fill="#111" stroke="none" stroke-width="0"/>
<circle cx="402.6" cy="417.5" r="1.5" fill="#111" stroke="none" stroke-width="0"/>
<line x1="388.2" y1="417.5" x2="388.2" y2="477.2" stroke="#555" stroke-width="0.9"/>
<rect x="385.59999999999997" y="438" width="5.20" height="9.90" stroke="#888" stroke-width="0.8" fill="#fff"/>
<polygon points="385.2,456.6 391.2,456.6 388.2,461.6" stroke="#000" stroke-width="0.3" fill="#000" stroke-linejoin="miter" stroke-linecap="square"/>
<line x1="385.2" y1="462" x2="391.2" y2="462" stroke="#000" stroke-width="0.8"/>
<line x1="391.7" y1="458.5" x2="393.7" y2="460.5" stroke="#333" stroke-width="0.6"/>
<line x1="393.2" y1="460" x2="395.2" y2="460.5" stroke="#333" stroke-width="0.6"/>
<line x1="402.6" y1="417.5" x2="402.6" y2="477.2" stroke="#555" stroke-width="0.9"/>
<rect x="400.0" y="438" width="5.20" height="9.90" stroke="#888" stroke-width="0.8" fill="#fff"/>
<polygon points="399.6,456.6 405.6,456.6 402.6,461.6" stroke="#000" stroke-width="0.3" fill="#000" stroke-linejoin="miter" stroke-linecap="square"/>
<line x1="399.6" y1="462" x2="405.6" y2="462" stroke="#000" stroke-width="0.8"/>
<line x1="406.1" y1="458.5" x2="408.1" y2="460.5" stroke="#333" stroke-width="0.6"/>
<line x1="407.6" y1="460" x2="409.6" y2="460.5" stroke="#333" stroke-width="0.6"/>
<line x1="417.4" y1="417.5" x2="417.4" y2="477.2" stroke="#999" stroke-width="0.9"/>
<rect x="414.79999999999995" y="438" width="5.20" height="9.90" stroke="#888" stroke-width="0.8" fill="#fff"/>
<polygon points="414.4,456.6 420.4,456.6 417.4,461.6" stroke="#000" stroke-width="0.3" fill="#000" stroke-linejoin="miter" stroke-linecap="square"/>
<line x1="414.4" y1="462" x2="420.4" y2="462" stroke="#000" stroke-width="0.8"/>
<line x1="420.9" y1="458.5" x2="422.9" y2="460.5" stroke="#333" stroke-width="0.6"/>
<line x1="422.4" y1="460" x2="424.4" y2="460.5" stroke="#333" stroke-width="0.6"/>
<rect x="423.3" y="425.4" width="72.30" height="28.10" stroke="#888" stroke-width="1" fill="#fff"/>
<line x1="427" y1="389.8" x2="427" y2="425.4" stroke="#777" stroke-width="0.9"/>
<polyline points="443.9,389.8 443.9,407.8 460,407.8" stroke="#666" stroke-width="0.9" fill="none" stroke-linejoin="miter" stroke-linecap="square"/>
<line x1="460" y1="389.8" x2="460" y2="425.4" stroke="#666" stroke-width="0.9"/>
<circle cx="460" cy="407.8" r="1.5" fill="#111" stroke="none" stroke-width="0"/>
<polyline points="476,389.8 476,407.8 492,407.8" stroke="#666" stroke-width="0.9" fill="none" stroke-linejoin="miter" stroke-linecap="square"/>
<line x1="492" y1="389.8" x2="492" y2="425.4" stroke="#666" stroke-width="0.9"/>
<circle cx="492" cy="407.8" r="1.5" fill="#111" stroke="none" stroke-width="0"/>
<line x1="523.7" y1="389.8" x2="523.7" y2="482.5" stroke="#777" stroke-width="0.9"/>
<circle cx="523.7" cy="435.9" r="1.5" fill="#111" stroke="none" stroke-width="0"/>
<line x1="495.6" y1="435.9" x2="523.7" y2="435.9" stroke="#777" stroke-width="0.9"/>
<line x1="495.6" y1="442.3" x2="505" y2="442.3" stroke="#777" stroke-width="0.9"/>
<polyline points="462.4,453.5 462.4,476.7 361,476.7" stroke="#888" stroke-width="0.9" fill="none" stroke-linejoin="miter" stroke-linecap="square"/>
<line x1="514.2" y1="453" x2="514.2" y2="471.9" stroke="#111" stroke-width="1.4"/>
<line x1="506" y1="460.7" x2="514.2" y2="460.7" stroke="#111" stroke-width="1.1"/>
<polygon points="502.3,460.7 507,458.6 507,462.8" stroke="#111" stroke-width="0.3" fill="#111" stroke-linejoin="miter" stroke-linecap="square"/>
<circle cx="510.2" cy="471.9" r="1.3" fill="#111" stroke="none" stroke-width="0"/>
<g transform="translate(491.5,468.5) scale(1.0,1.0)" fill="none" stroke="#111" stroke-width="1.4"><path d="M-2,6 C-8,6 -8,-6 -1,-6 C5,-6 7,-2 6,3 C5,6 2,6 0,5"/><path d="M1,3 L5,8 L8,7" /><rect x="6.5" y="-2" width="2" height="3" fill="#111" stroke="none"/></g>
<path d="M421,397 C421,393 425,393.5 427.5,394.2 C431,394 434,396 433.8,400 C434.5,404 432,407.8 428,408 C424,408.5 420.5,406 420.5,402 Z" fill="#e01818"/>
<path d="M519,403 C519,401 522,401.5 526,401.7 C530,401.5 532.6,402.5 532.6,406 C533,410 532,414.5 528,415 C524,415.3 519.5,415 518.8,411 Z" fill="#1e90dc"/>
<path d="M504.5,443 C505,440.5 509,441 512,440.8 C516,440.5 518.5,441.5 518,444.5 C517,447 516,450 514,452 C511,454 506,453.5 504.6,451 Z" fill="#2aa84a"/>
<path d="M505.6,482 C506,478.5 510,478.2 514,478.3 C518.5,478.2 521,479.5 521,483.5 C521.3,487.5 520.5,491 519,493 C517,494.8 512,494.8 509,494.2 C506.5,493.5 505.4,490 505.5,486 Z" fill="#c9835a"/>
<path d="M409,503 C410,499.5 414,499.8 417,499.8 C421,500.2 423.5,502 423.5,506 C423.8,511 421,516 416,516.3 C411.5,516.5 408.5,513 408.7,509 Z" fill="#000"/>
<line x1="369" y1="510.1" x2="402.9" y2="510.1" stroke="#222" stroke-width="1"/>
<polygon points="365.6,510.1 371.5,508.8 371.5,511.4" stroke="#111" stroke-width="0.3" fill="#111" stroke-linejoin="miter" stroke-linecap="square"/>
<line x1="374.4" y1="510.1" x2="381" y2="504.2" stroke="#222" stroke-width="0.9"/>
<line x1="374.4" y1="510.1" x2="377.3" y2="515.6" stroke="#222" stroke-width="0.9"/>
<polyline points="62,508.9 62,534.7 70.5,534.7" stroke="#666" stroke-width="0.9" fill="none" stroke-linejoin="miter" stroke-linecap="square"/>
<polyline points="80,534.7 92.5,534.7 92.5,508.9" stroke="#666" stroke-width="0.9" fill="none" stroke-linejoin="miter" stroke-linecap="square"/>
<rect x="69.10000000000001" y="532.5" width="2" height="4.4" fill="none" stroke="#999" stroke-width="0.7"/>
<rect x="79.49999999999999" y="532.5" width="2" height="4.4" fill="none" stroke="#999" stroke-width="0.7"/>
<circle cx="75.3" cy="534.7" r="4.6" fill="#fff" stroke="#444" stroke-width="0.9"/>
<text x="75.3" y="536.9000000000001" font-size="6" text-anchor="middle" fill="#222" font-weight="bold">M</text>
<g transform="translate(106,531.4)" fill="none" stroke="#222" stroke-width="1"><path d="M-5,3 L-5,-1 C-5,-4 -2,-5 1,-5 C4,-5 5,-3 5,-1 L5,3 Z"/><path d="M-3,0 L2,0 M-3,2 L2,2" stroke-width="0.8"/><rect x="5" y="-1.5" width="2" height="3" fill="#222" stroke="none"/></g>
<line x1="117.8" y1="508.9" x2="117.8" y2="523.7" stroke="#666" stroke-width="0.9"/>
<polyline points="117.8,523.7 120.1,524.5055555555556 115.5,526.1166666666667 120.1,527.7277777777779 115.5,529.338888888889 120.1,530.95 115.5,532.5611111111111 120.1,534.1722222222222 115.5,535.7833333333334 120.1,537.3944444444445 117.8,538.2" stroke="#444" stroke-width="0.8" fill="none" stroke-linejoin="miter" stroke-linecap="square"/>
<polyline points="117.8,538.2 117.8,546.8 136.5,546.8 136.5,508.9" stroke="#666" stroke-width="0.9" fill="none" stroke-linejoin="miter" stroke-linecap="square"/>
<line x1="161.5" y1="508.9" x2="161.5" y2="546.8" stroke="#666" stroke-width="0.9"/>
<rect x="159.3" y="521.4" width="4.4" height="2" fill="none" stroke="#999" stroke-width="0.7"/>
<rect x="159.3" y="531.8000000000001" width="4.4" height="2" fill="none" stroke="#999" stroke-width="0.7"/>
<circle cx="161.5" cy="527.6" r="4.6" fill="#fff" stroke="#444" stroke-width="0.9"/>
<text x="161.5" y="529.8000000000001" font-size="6" text-anchor="middle" fill="#222" font-weight="bold">M</text>
<polygon points="153.5,540.2 157.0,538.2 157.0,542.2" stroke="#000" stroke-width="0.4" fill="#000" stroke-linejoin="miter" stroke-linecap="square"/>
<line x1="156.5" y1="540.2" x2="160.0" y2="540.2" stroke="#000" stroke-width="1.3"/>
<line x1="163.0" y1="540.2" x2="166.5" y2="540.2" stroke="#000" stroke-width="1.3"/>
<polygon points="169.5,540.2 166.0,538.2 166.0,542.2" stroke="#000" stroke-width="0.4" fill="#000" stroke-linejoin="miter" stroke-linecap="square"/>
<polyline points="161.5,546.8 204.4,546.8" stroke="#666" stroke-width="0.9" fill="none" stroke-linejoin="miter" stroke-linecap="square"/>
<line x1="183" y1="508.9" x2="183" y2="546.8" stroke="#666" stroke-width="0.9"/>
<circle cx="183" cy="546.8" r="1.5" fill="#111" stroke="none" stroke-width="0"/>
<line x1="204.4" y1="508.9" x2="204.4" y2="546.8" stroke="#666" stroke-width="0.9"/>
<rect x="202.20000000000002" y="521.4" width="4.4" height="2" fill="none" stroke="#999" stroke-width="0.7"/>
<rect x="202.20000000000002" y="531.8000000000001" width="4.4" height="2" fill="none" stroke="#999" stroke-width="0.7"/>
<circle cx="204.4" cy="527.6" r="4.6" fill="#fff" stroke="#444" stroke-width="0.9"/>
<text x="204.4" y="529.8000000000001" font-size="6" text-anchor="middle" fill="#222" font-weight="bold">M</text>
<polygon points="195.5,520.6 193.2,524.3000000000001 197.8,524.3000000000001" stroke="#000" stroke-width="0.4" fill="#000" stroke-linejoin="miter" stroke-linecap="square"/>
<line x1="195.5" y1="523.6" x2="195.5" y2="526.8000000000001" stroke="#000" stroke-width="1.8"/>
<line x1="195.5" y1="530.4" x2="195.5" y2="533.6" stroke="#000" stroke-width="1.8"/>
<polygon points="195.5,536.6 193.2,532.9 197.8,532.9" stroke="#000" stroke-width="0.4" fill="#000" stroke-linejoin="miter" stroke-linecap="square"/>
<g transform="translate(93.5,548.7) scale(1.05,1.05)" fill="none" stroke="#111" stroke-width="1.4"><path d="M-2,6 C-8,6 -8,-6 -1,-6 C5,-6 7,-2 6,3 C5,6 2,6 0,5"/><path d="M1,3 L5,8 L8,7" /><rect x="6.5" y="-2" width="2" height="3" fill="#111" stroke="none"/></g>
<polyline points="577.8,509 577.8,533.9 584.6,533.9" stroke="#666" stroke-width="0.9" fill="none" stroke-linejoin="miter" stroke-linecap="square"/>
<polyline points="594.6,533.9 601.6,533.9 601.6,509" stroke="#666" stroke-width="0.9" fill="none" stroke-linejoin="miter" stroke-linecap="square"/>
<rect x="583.4" y="531.6999999999999" width="2" height="4.4" fill="none" stroke="#999" stroke-width="0.7"/>
<rect x="593.8000000000001" y="531.6999999999999" width="2" height="4.4" fill="none" stroke="#999" stroke-width="0.7"/>
<circle cx="589.6" cy="533.9" r="4.6" fill="#fff" stroke="#444" stroke-width="0.9"/>
<text x="589.6" y="536.1" font-size="6" text-anchor="middle" fill="#222" font-weight="bold">M</text>
<line x1="624.2" y1="509" x2="624.2" y2="546" stroke="#666" stroke-width="0.9"/>
<rect x="622.0" y="521.5999999999999" width="4.4" height="2" fill="none" stroke="#999" stroke-width="0.7"/>
<rect x="622.0" y="532.0" width="4.4" height="2" fill="none" stroke="#999" stroke-width="0.7"/>
<circle cx="624.2" cy="527.8" r="4.6" fill="#fff" stroke="#444" stroke-width="0.9"/>
<text x="624.2" y="530.0" font-size="6" text-anchor="middle" fill="#222" font-weight="bold">M</text>
<polygon points="616.2,540.2 619.7,538.2 619.7,542.2" stroke="#000" stroke-width="0.4" fill="#000" stroke-linejoin="miter" stroke-linecap="square"/>
<line x1="619.2" y1="540.2" x2="622.7" y2="540.2" stroke="#000" stroke-width="1.3"/>
<line x1="625.7" y1="540.2" x2="629.2" y2="540.2" stroke="#000" stroke-width="1.3"/>
<polygon points="632.2,540.2 628.7,538.2 628.7,542.2" stroke="#000" stroke-width="0.4" fill="#000" stroke-linejoin="miter" stroke-linecap="square"/>
<line x1="624.2" y1="546" x2="670.4" y2="546" stroke="#666" stroke-width="0.9"/>
<line x1="647.1" y1="509" x2="647.1" y2="546" stroke="#666" stroke-width="0.9"/>
<circle cx="647.1" cy="546" r="1.5" fill="#111" stroke="none" stroke-width="0"/>
<line x1="670.4" y1="509" x2="670.4" y2="546" stroke="#666" stroke-width="0.9"/>
<rect x="668.1999999999999" y="521.5999999999999" width="4.4" height="2" fill="none" stroke="#999" stroke-width="0.7"/>
<rect x="668.1999999999999" y="532.0" width="4.4" height="2" fill="none" stroke="#999" stroke-width="0.7"/>
<circle cx="670.4" cy="527.8" r="4.6" fill="#fff" stroke="#444" stroke-width="0.9"/>
<text x="670.4" y="530.0" font-size="6" text-anchor="middle" fill="#222" font-weight="bold">M</text>
<polygon points="660.3,519.8 658.0,523.5 662.5999999999999,523.5" stroke="#000" stroke-width="0.4" fill="#000" stroke-linejoin="miter" stroke-linecap="square"/>
<line x1="660.3" y1="522.8" x2="660.3" y2="526.0" stroke="#000" stroke-width="1.8"/>
<line x1="660.3" y1="529.5999999999999" x2="660.3" y2="532.8" stroke="#000" stroke-width="1.8"/>
<polygon points="660.3,535.8 658.0,532.0999999999999 662.5999999999999,532.0999999999999" stroke="#000" stroke-width="0.4" fill="#000" stroke-linejoin="miter" stroke-linecap="square"/>
<polyline points="690,509 690,546 708.5,546 708.5,538.7" stroke="#888" stroke-width="0.9" fill="none" stroke-linejoin="miter" stroke-linecap="square"/>
<polyline points="708.5,523 710.8,523.8722222222223 706.2,525.6166666666667 710.8,527.3611111111111 706.2,529.1055555555556 710.8,530.85 706.2,532.5944444444444 710.8,534.338888888889 706.2,536.0833333333334 710.8,537.8277777777778 708.5,538.7" stroke="#444" stroke-width="0.8" fill="none" stroke-linejoin="miter" stroke-linecap="square"/>
<line x1="708.5" y1="509" x2="708.5" y2="523" stroke="#888" stroke-width="0.9"/>
<g transform="translate(721,530.5)" fill="none" stroke="#222" stroke-width="1"><path d="M-5,3 L-5,-1 C-5,-4 -2,-5 1,-5 C4,-5 5,-3 5,-1 L5,3 Z"/><path d="M-3,0 L2,0 M-3,2 L2,2" stroke-width="0.8"/><rect x="5" y="-1.5" width="2" height="3" fill="#222" stroke="none"/></g>
<line x1="734.6" y1="509" x2="734.6" y2="521.8" stroke="#666" stroke-width="0.9"/>
<rect x="732.1" y="521.8" width="5.00" height="16.40" stroke="#777" stroke-width="0.9" fill="#fff"/>
<line x1="732.5" y1="536" x2="736.7" y2="524" stroke="#555" stroke-width="0.8"/>
<polyline points="734.6,538.2 734.6,546 753.5,546 753.5,509" stroke="#666" stroke-width="0.9" fill="none" stroke-linejoin="miter" stroke-linecap="square"/>
<line x1="743.2" y1="526.2" x2="743.2" y2="535.8" stroke="#111" stroke-width="1.8"/>
<line x1="743.2" y1="527.8" x2="747.6" y2="527.8" stroke="#111" stroke-width="1.2"/>
<line x1="743.2" y1="531" x2="747.6" y2="531" stroke="#111" stroke-width="1.2"/>
<line x1="743.2" y1="534.2" x2="747.6" y2="534.2" stroke="#111" stroke-width="1.2"/>
<g transform="translate(604.1,548.4) scale(-1.05,1.05)" fill="none" stroke="#111" stroke-width="1.4"><path d="M-2,6 C-8,6 -8,-6 -1,-6 C5,-6 7,-2 6,3 C5,6 2,6 0,5"/><path d="M1,3 L5,8 L8,7" /><rect x="6.5" y="-2" width="2" height="3" fill="#111" stroke="none"/></g>
<g transform="translate(856.5,269.6)" fill="none" stroke="#111" stroke-width="1.2"><path d="M1.2,-6.8 C-6.5,-5 -6.5,5.5 1.2,6.8 C2.6,3 2.6,-3 1.2,-6.8 Z"/><circle cx="-3" cy="0" r="1" fill="#999" stroke="none"/><line x1="3.5" y1="-1.8" x2="8" y2="-1.8" stroke-width="1"/><line x1="3.5" y1="1" x2="6" y2="1" stroke-width="0.8"/><line x1="3.5" y1="3" x2="6.5" y2="5.5" stroke-width="1"/></g>
<g transform="translate(856.5,130.1)" fill="none" stroke="#111" stroke-width="1.2"><path d="M1.2,-6.8 C-6.5,-5 -6.5,5.5 1.2,6.8 C2.6,3 2.6,-3 1.2,-6.8 Z"/><circle cx="-3" cy="0" r="1" fill="#999" stroke="none"/><line x1="3.5" y1="-1.8" x2="8" y2="-1.8" stroke-width="1"/><line x1="3.5" y1="1" x2="6" y2="1" stroke-width="0.8"/><line x1="3.5" y1="3" x2="6.5" y2="5.5" stroke-width="1"/></g>
<path d="M558.2,221.5 L558.2,215.5 L563.5,209.6 L571.6,209.6 L571.6,221.5 Z" fill="#fff" stroke="#111" stroke-width="1.3"/>
<path d="M559.2,215.2 L563.9,210.5 L570.8,210.5 L570.8,215.2 Z" fill="#111"/>
<path d="M565.2,211.5 L565.2,217.5" stroke="#fff" stroke-width="1.2"/><path d="M563.4,215.5 L565.2,218.5 L567,215.5 Z" fill="#111"/>
<path d="M574.3,221.5 L574.3,210 L578.5,209.6 C581.5,210 584,213 584.2,216 L584.2,221.5 Z" fill="#fff" stroke="#999" stroke-width="1"/>
<line x1="574.5" y1="215.8" x2="584" y2="215.8" stroke="#aaa" stroke-width="0.8"/>
<polygon points="859.2,310.7 856.9,314.92 852.1,314.8 854.6,318.9 852.1,323.0 856.9,322.88 859.2,327.1 861.5,322.88 866.3,323.0 863.8,318.9 866.3,314.8 861.5,314.92" stroke="#111" stroke-width="0.6" fill="#111" stroke-linejoin="miter" stroke-linecap="square"/>
<circle cx="859.2" cy="318.9" r="3.3" fill="#fff" stroke="none" stroke-width="0"/>
<rect x="113.39999999999999" y="435.0" width="13.10" height="7.40" stroke="#888" stroke-width="0.8" fill="#fff"/>
<line x1="116.39999999999999" y1="436.59999999999997" x2="116.39999999999999" y2="440.9" stroke="#222" stroke-width="1.1"/>
<circle cx="116.39999999999999" cy="436.9" r="0.9" fill="#222" stroke="none" stroke-width="0"/>
<line x1="119.8" y1="436.59999999999997" x2="119.8" y2="440.9" stroke="#222" stroke-width="1.1"/>
<circle cx="119.8" cy="436.9" r="0.9" fill="#222" stroke="none" stroke-width="0"/>
<line x1="123.19999999999999" y1="436.59999999999997" x2="123.19999999999999" y2="440.9" stroke="#222" stroke-width="1.1"/>
<circle cx="123.19999999999999" cy="436.9" r="0.9" fill="#222" stroke="none" stroke-width="0"/>
<path d="M130.1,441.9 L130.1,437.4 C130.1,434.9 133.1,434.59999999999997 136.1,434.79999999999995 C139.1,434.9 140.1,436.9 140.1,438.4 L140.1,442.4 C137.1,443.4 133.1,443.4 130.1,441.9 Z" fill="#fff" stroke="#111" stroke-width="1.1"/>
<line x1="132.1" y1="438.7" x2="138.1" y2="438.7" stroke="#444" stroke-width="1.2"/>
<rect x="140.1" y="437.4" width="2.00" height="3.00" stroke="#222" stroke-width="0.1" fill="#222"/>
<rect x="684.6999999999999" y="434.8" width="13.10" height="7.40" stroke="#888" stroke-width="0.8" fill="#fff"/>
<line x1="687.6999999999999" y1="436.4" x2="687.6999999999999" y2="440.7" stroke="#222" stroke-width="1.1"/>
<circle cx="687.6999999999999" cy="436.7" r="0.9" fill="#222" stroke="none" stroke-width="0"/>
<line x1="691.0999999999999" y1="436.4" x2="691.0999999999999" y2="440.7" stroke="#222" stroke-width="1.1"/>
<circle cx="691.0999999999999" cy="436.7" r="0.9" fill="#222" stroke="none" stroke-width="0"/>
<line x1="694.4999999999999" y1="436.4" x2="694.4999999999999" y2="440.7" stroke="#222" stroke-width="1.1"/>
<circle cx="694.4999999999999" cy="436.7" r="0.9" fill="#222" stroke="none" stroke-width="0"/>
<path d="M701.4,441.7 L701.4,437.2 C701.4,434.7 704.4,434.4 707.4,434.59999999999997 C710.4,434.7 711.4,436.7 711.4,438.2 L711.4,442.2 C708.4,443.2 704.4,443.2 701.4,441.7 Z" fill="#fff" stroke="#111" stroke-width="1.1"/>
<line x1="703.4" y1="438.5" x2="709.4" y2="438.5" stroke="#444" stroke-width="1.2"/>
<rect x="711.4" y="437.2" width="2.00" height="3.00" stroke="#222" stroke-width="0.1" fill="#222"/>
<path d="M731,446.5 C731,431.5 757.5,431.5 757.5,446.5 Z" fill="#fff" stroke="#111" stroke-width="1.1"/>
<circle cx="739.7" cy="442.3" r="2.2" fill="#fff" stroke="#444" stroke-width="0.8"/>
<circle cx="749.5" cy="442.3" r="2.2" fill="#fff" stroke="#444" stroke-width="0.8"/>
<line x1="739.2" y1="443" x2="740.5" y2="441.6" stroke="#444" stroke-width="0.6"/>
<line x1="749" y1="443" x2="750.2" y2="441.6" stroke="#444" stroke-width="0.6"/>
<g stroke="#777" stroke-width="0.8" fill="none"><path d="M937,491 L943,497 L949,497 L955,491 M937,503 L943,497 M955,503 L949,497"/><circle cx="936.5" cy="490.5" r="1.3"/><circle cx="955.5" cy="490.5" r="1.3"/><circle cx="936.5" cy="503.5" r="1.3"/><circle cx="955.5" cy="503.5" r="1.3"/></g>
<text x="945.6" y="507.6" font-size="4.2" text-anchor="middle" fill="#222" font-weight="bold">A-BUS</text>
<g transform="translate(947.3,389.2)" fill="none" stroke="#444" stroke-width="0.8"><path d="M-2.6,6 L-2.6,3 C-6,1 -6.5,-5.5 0,-6.5 C6.5,-5.5 6,1 2.6,3 L2.6,6 Z"/><circle cx="0" cy="-1.5" r="2.4"/><line x1="-4" y1="-8.5" x2="-2.5" y2="-7"/><line x1="4" y1="-8.5" x2="2.5" y2="-7"/><line x1="0" y1="-9.5" x2="0" y2="-8"/></g>
<text x="947.3" y="400.8" font-size="2.8" text-anchor="middle" fill="#666">AUTO</text>
<path d="M966.5,392.5 C964.5,392.5 964.5,388.5 967.5,388.5 C968,385.5 972,384.5 974,386.5 C976,385 979,386.5 978.5,389 C981,389 981,392.5 979,392.5 Z" fill="#222"/>
<line x1="968.2" y1="393.5" x2="965.2" y2="399" stroke="#333" stroke-width="0.7"/>
<line x1="970.7" y1="393.5" x2="967.7" y2="399" stroke="#333" stroke-width="0.7"/>
<line x1="973.2" y1="393.5" x2="970.2" y2="399" stroke="#333" stroke-width="0.7"/>
<line x1="975.7" y1="393.5" x2="972.7" y2="399" stroke="#333" stroke-width="0.7"/>
<line x1="978.2" y1="393.5" x2="975.2" y2="399" stroke="#333" stroke-width="0.7"/>
<rect x="997" y="28.8" width="42" height="65.2" fill="#fff" stroke="#888" stroke-width="0.9"/>
<rect x="1013.6" y="19.2" width="8.00" height="9.60" stroke="#8a8a8a" stroke-width="0.8" fill="none"/>
<circle cx="1017.6" cy="24" r="1.2" fill="none" stroke="#999" stroke-width="0.6"/>
<rect x="987.2" y="60" width="9.80" height="7.30" stroke="#8a8a8a" stroke-width="0.8" fill="none"/>
<rect x="1010" y="29.6" width="28.50" height="9.40" stroke="#000" stroke-width="0.3" fill="#000"/>
<rect x="998" y="40" width="9.70" height="14.50" stroke="#000" stroke-width="0.3" fill="#000"/>
<rect x="1010.4" y="42.0" width="6.10" height="3.20" stroke="#8a8a8a" stroke-width="0.6" fill="#111"/>
<rect x="1010.4" y="45.6" width="6.10" height="3.20" stroke="#8a8a8a" stroke-width="0.6" fill="#fff"/>
<rect x="1010.4" y="49.2" width="6.10" height="3.20" stroke="#8a8a8a" stroke-width="0.6" fill="#fff"/>
<rect x="1010.4" y="52.8" width="6.10" height="3.20" stroke="#8a8a8a" stroke-width="0.6" fill="#fff"/>
<rect x="1010.4" y="56.4" width="6.10" height="3.20" stroke="#8a8a8a" stroke-width="0.6" fill="#fff"/>
<rect x="1010.4" y="60.0" width="6.10" height="3.20" stroke="#8a8a8a" stroke-width="0.6" fill="#fff"/>
<rect x="1010.4" y="63.6" width="6.10" height="3.20" stroke="#8a8a8a" stroke-width="0.6" fill="#fff"/>
<rect x="1010.4" y="67.2" width="6.10" height="3.20" stroke="#8a8a8a" stroke-width="0.6" fill="#fff"/>
<rect x="1010.4" y="70.8" width="6.10" height="3.20" stroke="#8a8a8a" stroke-width="0.6" fill="#fff"/>
<rect x="1021" y="55.8" width="6.70" height="3.00" stroke="#8a8a8a" stroke-width="0.6" fill="none"/>
<rect x="1032.2" y="55.8" width="5.90" height="3.00" stroke="#8a8a8a" stroke-width="0.6" fill="#fff"/>
<rect x="1021" y="59.099999999999994" width="6.70" height="3.00" stroke="#8a8a8a" stroke-width="0.6" fill="none"/>
<rect x="1032.2" y="59.099999999999994" width="5.90" height="3.00" stroke="#8a8a8a" stroke-width="0.6" fill="#111"/>
<rect x="1021" y="62.4" width="6.70" height="3.00" stroke="#8a8a8a" stroke-width="0.6" fill="none"/>
<rect x="1032.2" y="62.4" width="5.90" height="3.00" stroke="#8a8a8a" stroke-width="0.6" fill="#fff"/>
<rect x="1021" y="65.69999999999999" width="6.70" height="3.00" stroke="#8a8a8a" stroke-width="0.6" fill="none"/>
<rect x="1032.2" y="65.69999999999999" width="5.90" height="3.00" stroke="#8a8a8a" stroke-width="0.6" fill="#fff"/>
<rect x="1021" y="69.0" width="6.70" height="3.00" stroke="#8a8a8a" stroke-width="0.6" fill="none"/>
<rect x="1032.2" y="69.0" width="5.90" height="3.00" stroke="#8a8a8a" stroke-width="0.6" fill="#fff"/>
<rect x="1021" y="72.3" width="6.70" height="3.00" stroke="#8a8a8a" stroke-width="0.6" fill="none"/>
<rect x="1032.2" y="72.3" width="5.90" height="3.00" stroke="#8a8a8a" stroke-width="0.6" fill="#fff"/>
<rect x="1000" y="72" width="8.00" height="13.00" stroke="#8a8a8a" stroke-width="0.7" fill="none"/>
<rect x="1010" y="76" width="8.00" height="6.50" stroke="#000" stroke-width="0.3" fill="#000"/>
<rect x="1021" y="76" width="7.00" height="6.50" stroke="#8a8a8a" stroke-width="0.7" fill="none"/>
<rect x="1010" y="85" width="18.00" height="8.00" stroke="#8a8a8a" stroke-width="0.7" fill="none"/>
<rect x="1013.6" y="94" width="8.10" height="9.00" stroke="#8a8a8a" stroke-width="0.8" fill="none"/>
<rect x="1013.6" y="109.2" width="8.10" height="8.30" stroke="#8a8a8a" stroke-width="0.8" fill="none"/>
<rect x="996.7" y="117.5" width="41.9" height="66.7" rx="2" fill="#fff" stroke="#777" stroke-width="0.9"/>
<rect x="1022.7" y="134.2" width="8.20" height="13.50" stroke="#8a8a8a" stroke-width="0.8" fill="none"/>
<line x1="1026.8" y1="137" x2="1026.8" y2="145" stroke="#555" stroke-width="1"/>
<rect x="1025.7" y="163" width="9.60" height="17.00" stroke="#000" stroke-width="0.3" fill="#000"/>
<rect x="987.7" y="149.6" width="9.00" height="7.40" stroke="#8a8a8a" stroke-width="0.8" fill="none"/>
<rect x="1013.6" y="184.2" width="8.10" height="8.70" stroke="#8a8a8a" stroke-width="0.8" fill="none"/>
<line x1="997" y1="24.5" x2="1008" y2="36" stroke="#555" stroke-width="0.7"/>
<line x1="1036.5" y1="24.5" x2="1034" y2="30" stroke="#555" stroke-width="0.7"/>
<line x1="988.5" y1="48" x2="998" y2="48" stroke="#555" stroke-width="0.8"/>
<line x1="1038.5" y1="61" x2="1045" y2="61" stroke="#555" stroke-width="0.8"/>
<line x1="1006" y1="104" x2="1011" y2="84" stroke="#555" stroke-width="0.7"/>
<line x1="1046" y1="180.5" x2="1035.3" y2="173" stroke="#555" stroke-width="0.7"/>
<text x="984.45" y="22.04" font-size="8.8" font-weight="bold" fill="#111" textLength="14.70" lengthAdjust="spacingAndGlyphs">F36</text>
<text x="1033.40" y="22.04" font-size="8.8" font-weight="bold" fill="#111" textLength="6.20" lengthAdjust="spacingAndGlyphs">E</text>
<text x="981.91" y="50.84" font-size="8.8" font-weight="bold" fill="#111" textLength="5.50" lengthAdjust="spacingAndGlyphs">F</text>
<text x="1045.14" y="64.04" font-size="8.8" font-weight="bold" fill="#111" textLength="14.90" lengthAdjust="spacingAndGlyphs">F49</text>
<text x="1000.79" y="111.74" font-size="8.8" font-weight="bold" fill="#111" textLength="6.00" lengthAdjust="spacingAndGlyphs">A</text>
<text x="1046.85" y="186.34" font-size="8.8" font-weight="bold" fill="#111">G</text>
<text x="1041.45" y="198.84" font-size="8.8" font-weight="bold" fill="#111" textLength="21.00" lengthAdjust="spacingAndGlyphs">M001</text>
</svg>
</body></html>
